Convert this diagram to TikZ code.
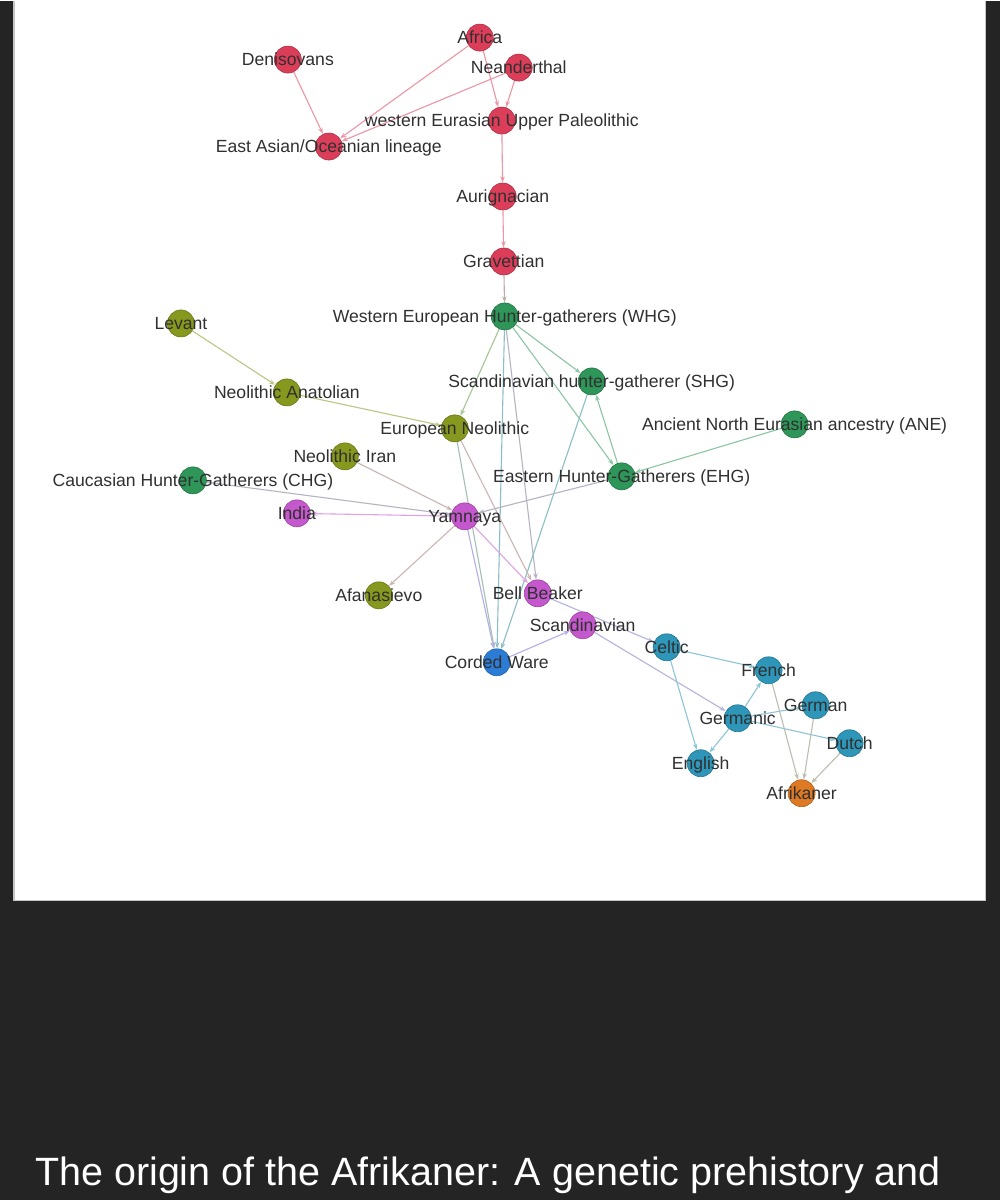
\documentclass[tikz,border=0pt]{standalone}
\usepackage{fontspec}
\setmainfont{Liberation Sans}
\usetikzlibrary{arrows.meta}
\pgfdeclarelayer{back}
\pgfdeclarelayer{bg}
\pgfsetlayers{back,bg,main}
\definecolor{cred}{RGB}{220,62,90}
\definecolor{cgreen}{RGB}{46,150,88}
\definecolor{colive}{RGB}{134,152,30}
\definecolor{cpurple}{RGB}{196,88,204}
\definecolor{cblue}{RGB}{44,124,214}
\definecolor{cteal}{RGB}{46,150,184}
\definecolor{corange}{RGB}{222,122,36}
\definecolor{labelc}{RGB}{48,48,48}
\definecolor{bgdark}{RGB}{36,36,36}
\tikzset{
  vert/.style={circle, minimum size=27pt, inner sep=0pt, fill=#1, draw=#1!78!black, line width=0.6pt},
  lab/.style={anchor=base, font=\fontsize{17.6}{20}\selectfont, text=labelc, inner sep=0pt, yshift=-6.3pt},
  link/.style={line width=1.1pt, -{Stealth[length=6pt,width=4.5pt]}, shorten >=0.3pt},
}
\newcommand\lnk[4]{\draw[link, draw=#3!50!#4!55!white] (#1) -- (#2);}
\begin{document}
\begin{tikzpicture}[x=1pt,y=-1pt]
\begin{pgfonlayer}{back}
\fill[bgdark] (0,0) rectangle (1000,1200);
\fill[white] (14,0) rectangle (986,900);
\draw[gray!45, line width=1.2pt] (14,0) -- (14,900) -- (986,900) -- (986,0);
\end{pgfonlayer}
\useasboundingbox (0,0) rectangle (1000,1200);
% nodes
\node[vert=cred] (afr) at (480,37) {};
\node[vert=cred] (den) at (288,59) {};
\node[vert=cred] (nea) at (519,67) {};
\node[vert=cred] (weup) at (502,120) {};
\node[vert=cred] (eas) at (329,146) {};
\node[vert=cred] (aur) at (503,196) {};
\node[vert=cred] (gra) at (504,261) {};
\node[vert=cgreen] (whg) at (505,316) {};
\node[vert=colive] (lev) at (181,323) {};
\node[vert=colive] (nan) at (287,392) {};
\node[vert=cgreen] (shg) at (592,381) {};
\node[vert=colive] (eno) at (455,428) {};
\node[vert=cgreen] (ane) at (795,424) {};
\node[vert=colive] (nir) at (345,456) {};
\node[vert=cgreen] (ehg) at (622,476) {};
\node[vert=cgreen] (chg) at (193,480) {};
\node[vert=cpurple] (ind) at (297,513) {};
\node[vert=cpurple] (yam) at (465,516) {};
\node[vert=colive] (afa) at (379,595) {};
\node[vert=cpurple] (bbk) at (538,593) {};
\node[vert=cpurple] (sca) at (583,625) {};
\node[vert=cblue] (cwa) at (497,662) {};
\node[vert=cteal] (cel) at (667,647) {};
\node[vert=cteal] (fre) at (769,670) {};
\node[vert=cteal] (ger) at (816,705) {};
\node[vert=cteal] (gmc) at (738,718) {};
\node[vert=cteal] (dut) at (850,743) {};
\node[vert=cteal] (eng) at (701,763) {};
\node[vert=corange] (afk) at (802,793) {};
% edges
\begin{pgfonlayer}{bg}
\lnk{den}{eas}{cred}{cred}
\lnk{afr}{eas}{cred}{cred}
\lnk{nea}{eas}{cred}{cred}
\lnk{afr}{weup}{cred}{cred}
\lnk{nea}{weup}{cred}{cred}
\lnk{weup}{aur}{cred}{cred}
\lnk{aur}{gra}{cred}{cred}
\lnk{gra}{whg}{cred}{cgreen}
\lnk{lev}{nan}{colive}{colive}
\lnk{nan}{eno}{colive}{colive}
\lnk{whg}{eno}{cgreen}{colive}
\lnk{whg}{shg}{cgreen}{cgreen}
\lnk{whg}{ehg}{cgreen}{cgreen}
\lnk{ehg}{shg}{cgreen}{cgreen}
\lnk{ane}{ehg}{cgreen}{cgreen}
\lnk{whg}{cwa}{cgreen}{cblue}
\lnk{whg}{bbk}{cgreen}{cpurple}
\lnk{shg}{cwa}{cgreen}{cblue}
\lnk{eno}{cwa}{colive}{cblue}
\lnk{eno}{bbk}{colive}{cpurple}
\lnk{nir}{yam}{colive}{cpurple}
\lnk{chg}{yam}{cgreen}{cpurple}
\lnk{ehg}{yam}{cgreen}{cpurple}
\lnk{yam}{ind}{cpurple}{cpurple}
\lnk{yam}{afa}{cpurple}{colive}
\lnk{yam}{cwa}{cpurple}{cblue}
\lnk{yam}{bbk}{cpurple}{cpurple}
\lnk{cwa}{sca}{cblue}{cpurple}
\lnk{bbk}{cel}{cpurple}{cteal}
\lnk{sca}{gmc}{cpurple}{cteal}
\lnk{cel}{fre}{cteal}{cteal}
\lnk{cel}{eng}{cteal}{cteal}
\lnk{gmc}{fre}{cteal}{cteal}
\lnk{gmc}{eng}{cteal}{cteal}
\lnk{gmc}{dut}{cteal}{cteal}
\lnk{gmc}{ger}{cteal}{cteal}
\lnk{fre}{afk}{cteal}{corange}
\lnk{ger}{afk}{cteal}{corange}
\lnk{dut}{afk}{cteal}{corange}
\end{pgfonlayer}
% labels
\node[lab] (lafr) at (afr.center) {Africa};
\node[lab] (lden) at (den.center) {Denisovans};
\node[lab] (lnea) at (nea.center) {Neanderthal};
\node[lab] (lweup) at (weup.center) {western Eurasian Upper Paleolithic};
\node[lab] (leas) at (eas.center) {East Asian/Oceanian lineage};
\node[lab] (laur) at (aur.center) {Aurignacian};
\node[lab] (lgra) at (gra.center) {Gravettian};
\node[lab] (lwhg) at (whg.center) {Western European Hunter-gatherers (WHG)};
\node[lab] (llev) at (lev.center) {Levant};
\node[lab] (lnan) at (nan.center) {Neolithic Anatolian};
\node[lab] (lshg) at (shg.center) {Scandinavian hunter-gatherer (SHG)};
\node[lab] (leno) at (eno.center) {European Neolithic};
\node[lab] (lane) at (ane.center) {Ancient North Eurasian ancestry (ANE)};
\node[lab] (lnir) at (nir.center) {Neolithic Iran};
\node[lab] (lehg) at (ehg.center) {Eastern Hunter-Gatherers (EHG)};
\node[lab] (lchg) at (chg.center) {Caucasian Hunter-Gatherers (CHG)};
\node[lab] (lind) at (ind.center) {India};
\node[lab] (lyam) at (yam.center) {Yamnaya};
\node[lab] (lafa) at (afa.center) {Afanasievo};
\node[lab] (lbbk) at (bbk.center) {Bell Beaker};
\node[lab] (lsca) at (sca.center) {Scandinavian};
\node[lab] (lcwa) at (cwa.center) {Corded Ware};
\node[lab] (lcel) at (cel.center) {Celtic};
\node[lab] (lfre) at (fre.center) {French};
\node[lab] (lger) at (ger.center) {German};
\node[lab] (lgmc) at (gmc.center) {Germanic};
\node[lab] (ldut) at (dut.center) {Dutch};
\node[lab] (leng) at (eng.center) {English};
\node[lab] (lafk) at (afk.center) {Afrikaner};
% caption
\node[anchor=base west, text=white, font=\fontsize{39.5}{44}\selectfont, inner sep=0pt] (cap) at (35,1185) {The origin of the Afrikaner: A genetic prehistory and};
\end{tikzpicture}
\end{document}
